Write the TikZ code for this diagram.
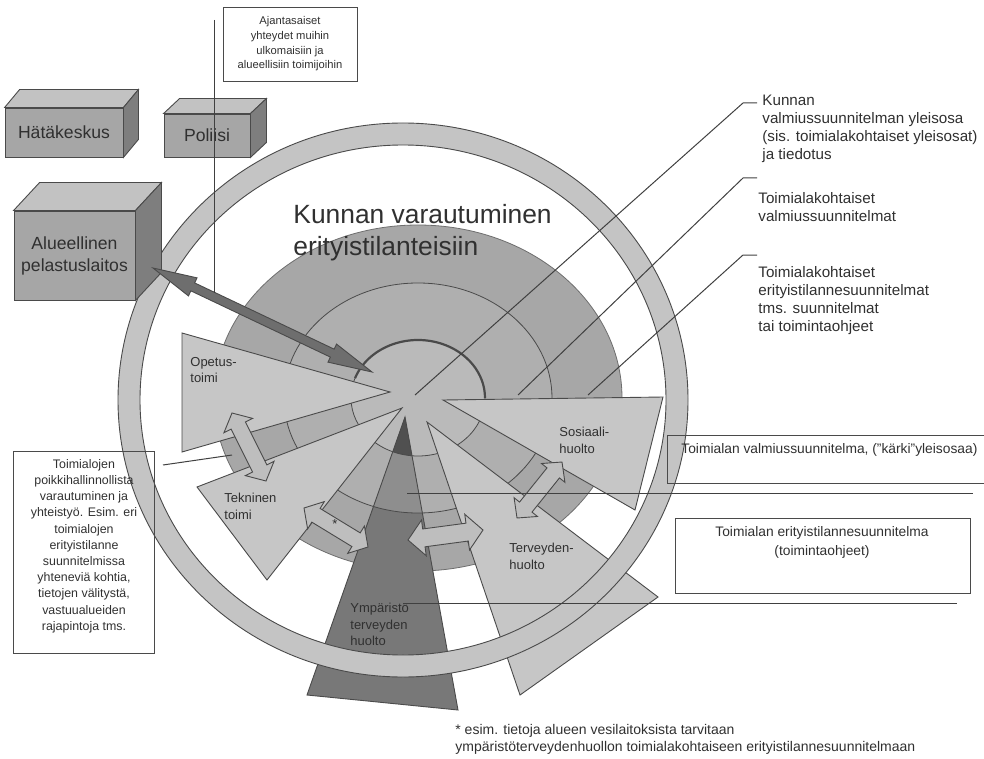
\documentclass[tikz,border=0pt]{standalone}
\usepackage{fontspec}
\setmainfont{Liberation Sans}
\usepackage{tikz}
\usetikzlibrary{calc}
\definecolor{ringgray}{HTML}{C4C4C4}
\definecolor{diskgray}{HTML}{A7A7A7}
\definecolor{midgray}{HTML}{AFAFAF}
\definecolor{hubgray}{HTML}{BABABA}
\definecolor{wedgegray}{HTML}{C6C6C6}
\definecolor{envdark}{HTML}{787878}
\definecolor{envmid}{HTML}{8E8E8E}
\definecolor{envtip}{HTML}{505050}
\definecolor{frontgray}{HTML}{A6A6A6}
\definecolor{topgray}{HTML}{C2C2C2}
\definecolor{sidegray}{HTML}{7E7E7E}
\definecolor{linkgray}{HTML}{6E6E6E}
\definecolor{swapgray}{HTML}{BEBEBE}
\definecolor{edgegray}{HTML}{4A4A4A}
\definecolor{textgray}{HTML}{303030}

% kaksisuuntainen nuoli: kärjet #2 ja #3, kärjen pituus #4, kärjen puolileveys #5, varren puolileveys #6
\newcommand{\twoway}[6][]{%
  \coordinate (ta) at (#2);
  \coordinate (tb) at (#3);
  \coordinate (ha) at ($(ta)!#4!(tb)$);
  \coordinate (hb) at ($(tb)!#4!(ta)$);
  \draw[#1] (ta) -- ($(ha)!#5!90:(tb)$) -- ($(ha)!#6!90:(tb)$)
    -- ($(hb)!#6!-90:(ta)$) -- ($(hb)!#5!-90:(ta)$) -- (tb)
    -- ($(hb)!#5!90:(ta)$) -- ($(hb)!#6!90:(ta)$)
    -- ($(ha)!#6!-90:(tb)$) -- ($(ha)!#5!-90:(tb)$) -- cycle;}

% laatikon katto ja kylki
\newcommand{\boxsides}[3]{%
  \draw[edge, fill=topgray] (#1.north west) -- ++(#2,-#3)
    -- ([shift={(#2,-#3)}]#1.north east) -- (#1.north east) -- cycle;
  \draw[edge, fill=sidegray] (#1.north east) -- ++(#2,-#3)
    -- ([shift={(#2,-#3)}]#1.south east) -- (#1.south east) -- cycle;}

\begin{document}
\begin{tikzpicture}[x=0.5pt, y=-0.5pt,
  edge/.style={draw=edgegray, line width=0.45pt},
  wedge/.style={edge, fill=wedgegray},
  arcline/.style={draw=edgegray, line width=0.4pt},
  swap/.style={edge, fill=swapgray},
  leader/.style={draw=black!75, line width=0.5pt},
  front/.style={edge, fill=frontgray, inner sep=0pt, align=center, text=textgray,
    font=\fontsize{8.8}{11}\selectfont},
  wlabel/.style={inner sep=0pt, align=left, text=textgray, font=\fontsize{6.5}{8.2}\selectfont},
  note/.style={inner sep=0pt, align=left, text=textgray, font=\fontsize{7.6}{9}\selectfont},
  planbox/.style={inner sep=0pt, align=center, text=textgray, font=\fontsize{6.9}{9.5}\selectfont},
]
\useasboundingbox (0,0) rectangle (984,759);

% Kiekko ja vyöhykkeet
\coordinate (hub) at (418,398);
\draw[draw=edgegray!80, fill=diskgray] (hub) ellipse [x radius=204, y radius=173];
\fill[midgray] (hub) ellipse [x radius=134, y radius=115];
\fill[hubgray] (hub) ellipse [x radius=67, y radius=58];
\draw[arcline] (hub) ellipse [x radius=134, y radius=115];
\draw[arcline] (hub) ellipse [x radius=67, y radius=58];
\draw[edgegray, line width=1.1pt] (hub) ++(200:67 and 58)
  arc [start angle=200, end angle=360, x radius=67, y radius=58];

% Toimialat
\draw[wedge] (182,333) -- (182,452) -- (390,392) -- cycle;
\draw[wedge] (197,487) -- (267,580) -- (402,408) -- cycle;
\draw[wedge] (443,400) -- (663,397) -- (635,510) -- cycle;
\draw[wedge] (427,422) -- (658,597) -- (520,695) -- cycle;

% Ympäristöterveydenhuolto
\begin{scope}
  \clip (405,417) -- (458,710) -- (307,695) -- cycle;
  \fill[envdark] (300,410) rectangle (470,720);
  \fill[envmid] (hub) ellipse [x radius=134, y radius=115];
  \fill[envtip] (hub) ellipse [x radius=67, y radius=58];
  \draw[arcline] (hub) ellipse [x radius=134, y radius=115];
  \draw[arcline] (hub) ellipse [x radius=67, y radius=58];
\end{scope}
\draw[edge] (405,417) -- (458,710) -- (307,695) -- cycle;

\node[wlabel, anchor=north west] (opetus) at (190,357) {Opetus-\\toimi};
\node[wlabel, anchor=north west] (tekn) at (224,493) {Tekninen\\toimi};
\node[wlabel, anchor=north west] (sos) at (559,427) {Sosiaali-\\huolto};
\node[wlabel, anchor=north west] (terv) at (509,543) {Terveyden-\\huolto};
\node[wlabel, anchor=north west] (ymp) at (350,603) {Ympäristö\\terveyden\\huolto};

% Yhteistyönuolet
\coordinate (opA) at (232,413);
\coordinate (tekA) at (266,481);
\coordinate (tekB) at (304,508);
\coordinate (ympB) at (368,547);
\coordinate (ympC) at (408,540);
\coordinate (terC) at (483,530);
\coordinate (terD) at (517,518);
\coordinate (sosD) at (562,462);
\twoway[swap]{opA}{tekA}{7pt}{8pt}{4pt}
\twoway[swap]{tekB}{ympB}{7pt}{8pt}{4pt}
\twoway[swap]{ympC}{terC}{8pt}{9pt}{4.5pt}
\twoway[swap]{terD}{sosD}{7pt}{7.5pt}{4pt}
\node[wlabel] (star) at (335,524) {*};

% Kunnan rengas
\coordinate (ring) at (403,400);
\draw[edge, fill=ringgray, even odd rule]
  (ring) ellipse [x radius=285, y radius=277]
  (ring) ellipse [x radius=263, y radius=255];

% Ulkoiset toimijat
\node[front, minimum width=59pt, minimum height=24.5pt] (hk) at (64,132.5) {Hätäkeskus};
\boxsides{hk}{15}{18}
\node[front, minimum width=43pt, minimum height=21.5pt] (pol) at (207,135.5) {Poliisi};
\boxsides{pol}{16}{15}
\node[front, minimum width=60.5pt, minimum height=44.5pt] (alue) at (74.5,255.5)
  {Alueellinen\\pelastuslaitos};
\boxsides{alue}{26}{28}

\coordinate (alueTip) at (153,268);
\coordinate (hubTip) at (372,372);
\twoway[edge, fill=linkgray]{alueTip}{hubTip}{22pt}{5pt}{2.2pt}

\node[inner sep=0pt, anchor=north west, text=textgray, align=left,
  font=\fontsize{13.2}{16}\selectfont] (title) at (293,204)
  {Kunnan varautuminen\\erityistilanteisiin};

% Selitteet oikealla
\coordinate (k1) at (415,395);
\coordinate (k1e) at (743,103);
\coordinate (k2) at (518,395);
\coordinate (k2e) at (743,178);
\coordinate (k3) at (588,395);
\coordinate (k3e) at (743,255);
\draw[leader] (k1) -- (k1e) -- ++(14,0);
\draw[leader] (k2) -- (k2e) -- ++(14,0);
\draw[leader] (k3) -- (k3e) -- ++(14,0);
\node[note, anchor=north west] (lblA) at (762,95)
  {Kunnan\\valmiussuunnitelman yleisosa\\(sis. toimialakohtaiset yleisosat)\\ja tiedotus};
\node[note, anchor=north west] (lblB) at (758,192)
  {Toimialakohtaiset\\valmiussuunnitelmat};
\node[note, anchor=north west] (lblC) at (758,266)
  {Toimialakohtaiset\\erityistilannesuunnitelmat\\tms. suunnitelmat\\tai toimintaohjeet};

% Toimialan suunnitelmat
\draw[edge] (984,435) -- (667,435) -- (667,483) -- (984,483);
\node[planbox, anchor=west] (valm) at (681,450)
  {Toimialan valmiussuunnitelma, ("kärki"yleisosaa)};
\draw[edge] (675,518) rectangle (970,593);
\node[planbox] (erit) at (822,542) {Toimialan erityistilannesuunnitelma\\(toimintaohjeet)};
\coordinate (valmL) at (407,493);
\coordinate (valmR) at (973,493);
\coordinate (eritL) at (403,603);
\coordinate (eritR) at (957,603);
\draw[leader] (valmL) -- (valmR);
\draw[leader] (eritL) -- (eritR);

% Ajantasaiset yhteydet
\node[edge, planbox, minimum width=67pt, minimum height=37pt,
  font=\fontsize{5.6}{7.3}\selectfont] (ajan) at (290,44)
  {Ajantasaiset\\yhteydet muihin\\ulkomaisiin ja\\alueellisiin toimijoihin};
\coordinate (ajTop) at (214,20);
\coordinate (ajEnd) at (214,293);
\draw[leader] (ajTop) -- (ajEnd);

% Poikkihallinnollinen yhteistyö
\draw[edge] (13,451) rectangle (154,653);
\node[planbox, font=\fontsize{6.2}{8.1}\selectfont] (poik) at (84,546)
  {Toimialojen\\poikkihallinnollista\\varautuminen ja\\yhteistyö. Esim. eri\\toimialojen\\erityistilanne\\suunnitelmissa\\yhteneviä kohtia,\\tietojen välitystä,\\vastuualueiden\\rajapintoja tms.};
\coordinate (poikL) at (163,465);
\coordinate (poikR) at (232,455);
\draw[leader] (poikL) -- (poikR);

% Alaviite
\node[note, anchor=north west, font=\fontsize{7}{8.5}\selectfont] (foot) at (455,724)
  {* esim. tietoja alueen vesilaitoksista tarvitaan\\ympäristöterveydenhuollon toimialakohtaiseen erityistilannesuunnitelmaan};

\end{tikzpicture}
\end{document}
